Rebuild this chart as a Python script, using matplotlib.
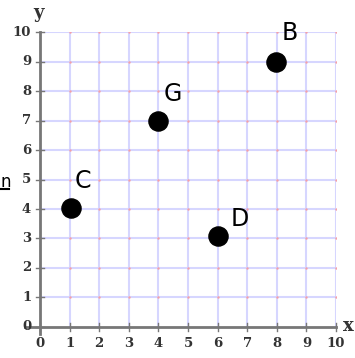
import matplotlib.pyplot as plt
import numpy as np

# points on the grid
names = ["C", "G", "B", "D"]
xs = [1.05, 4.0, 7.97, 6.0]
ys = [4.05, 7.0, 9.0, 3.08]
# label anchor for each point
lab_x = [1.45, 4.5, 8.45, 6.75]
lab_y = [4.95, 7.9, 9.95, 3.65]
ticks = list(range(0, 11))


def main():
    fig = plt.figure(figsize=(3.55, 3.58), dpi=100)
    ax = fig.add_axes([0.1127, 0.0866, 0.8338, 0.824])
    ax.set_xlim(0, 10)
    ax.set_ylim(0, 10)
    for s in ax.spines.values():
        s.set_visible(False)
    ax.set_xticks([])
    ax.set_yticks([])

    # light blue grid
    for t in ticks[1:]:
        ax.plot([t, t], [0, 10], color="#d6d6ff", lw=1.5, zorder=1)
        ax.plot([0, 10], [t, t], color="#d6d6ff", lw=1.5, zorder=1)
    # pink dots where grid lines cross
    gx, gy = np.meshgrid(ticks, ticks)
    ax.scatter(gx.ravel(), gy.ravel(), s=3, color="#f4a0a8", zorder=2, lw=0)

    # grey axes
    ax.plot([-0.5, 10.0], [0, 0], color="#777777", lw=2, zorder=3, clip_on=False)
    ax.plot([0, 0], [-0.25, 10.0], color="#777777", lw=2, zorder=3, clip_on=False)
    for t in ticks:
        ax.plot([t, t], [-0.12, 0.12], color="#777777", lw=1, zorder=3, clip_on=False)
        ax.plot([-0.12, 0.12], [t, t], color="#777777", lw=1, zorder=3, clip_on=False)
        ax.text(t, -0.35, str(t), ha="center", va="top", family="DejaVu Serif",
                weight="bold", fontsize=9.5, color="#333333")
        ax.text(-0.3, t, str(t), ha="right", va="center", family="DejaVu Serif",
                weight="bold", fontsize=9.5, color="#333333")
    ax.text(-0.05, 10.35, "y", ha="center", va="bottom", family="DejaVu Serif",
            weight="bold", fontsize=13, color="#333333")
    ax.text(10.25, 0.05, "x", ha="left", va="center", family="DejaVu Serif",
            weight="bold", fontsize=13, color="#333333")

    # the points and their names
    ax.scatter(xs, ys, s=190, color="black", zorder=5)
    for n, lx, ly in zip(names, lab_x, lab_y):
        ax.text(lx, ly, n, ha="center", va="center", fontsize=17,
                family="DejaVu Sans", color="black", zorder=6)

    # stray underlined letter at the left edge
    fig.text(0.002, 0.492, "n", ha="left", va="center", fontsize=12,
             family="DejaVu Sans")
    fig.add_artist(plt.Line2D([0.0, 0.026], [0.472, 0.472], color="black", lw=1.5))

    fig.savefig("out.png", dpi=100)


if __name__ == "__main__":
    main()
